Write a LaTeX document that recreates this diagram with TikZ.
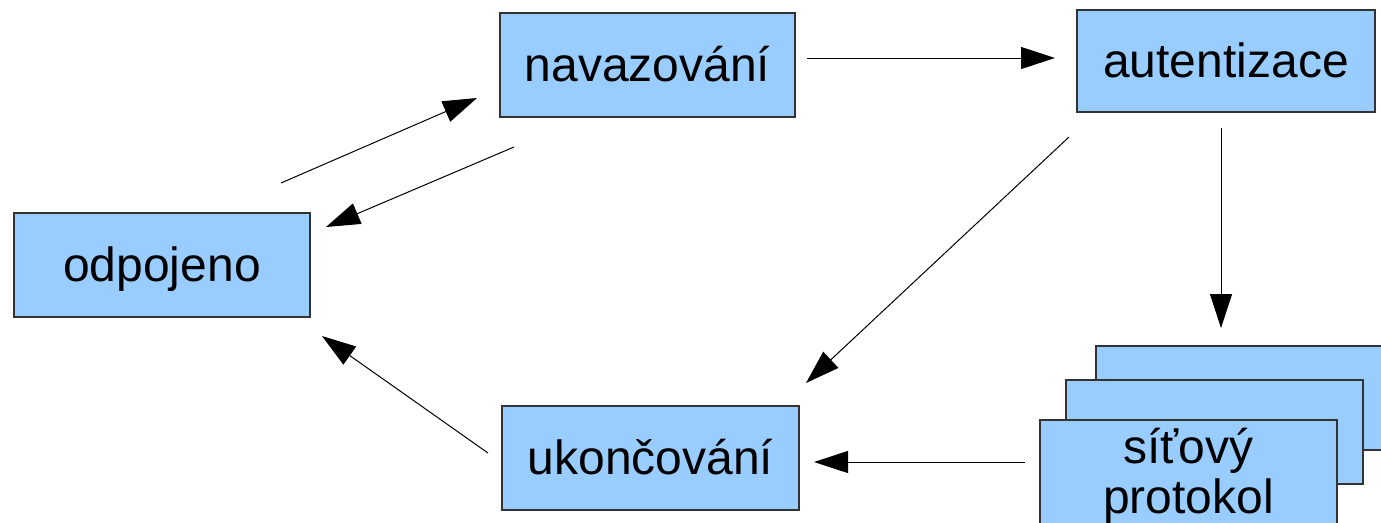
\documentclass[tikz,border=0pt]{standalone}
\usepackage{fontspec}
\setmainfont{Liberation Sans}
\usetikzlibrary{arrows.meta}
\definecolor{boxfill}{HTML}{99CCFF}
\definecolor{boxline}{HTML}{333333}
\begin{document}
\begin{tikzpicture}[x=1pt,y=-1pt,
  bigfont/.style={font=\fontsize{48}{50}\selectfont},
  statebox/.style={draw=boxline,fill=boxfill,line width=1.2pt,inner sep=0pt,
    bigfont,text height=36pt,text depth=4pt},
  plainbox/.style={draw=boxline,fill=boxfill,line width=1.2pt,inner sep=0pt},
  boxtext/.style={bigfont,inner sep=0pt,anchor=base},
  conn/.style={line width=1pt,-{Triangle[length=34pt,width=22pt]}}]
\useasboundingbox (0,0) rectangle (1381,522);
% state boxes
\node[statebox,minimum width=295pt,minimum height=104pt] (nav) at (647.5,65) {navazování};
\node[statebox,minimum width=298pt,minimum height=102pt] (aut) at (1226,61) {autentizace};
\node[statebox,minimum width=296pt,minimum height=104pt] (odp) at (162,265) {odpojeno};
\node[statebox,minimum width=297pt,minimum height=104pt] (uko) at (650.5,458) {ukončování};
% stacked protocol boxes
\node[plainbox,minimum width=300pt,minimum height=104pt] (sitc) at (1246,398) {};
\node[plainbox,minimum width=297pt,minimum height=104pt] (sitb) at (1214.5,432) {};
\node[plainbox,minimum width=297pt,minimum height=112pt] (sit) at (1188.5,476) {};
\node[boxtext] (sitl1) at (1188.5,463) {síťový};
\node[boxtext] (sitl2) at (1188.5,513) {protokol};
% connector end points
\coordinate (p1s) at (281,183);  \coordinate (p1e) at (477,98);
\coordinate (p2s) at (514,147);  \coordinate (p2e) at (326,227);
\coordinate (p3s) at (807,58);   \coordinate (p3e) at (1055,58);
\coordinate (p4s) at (1221,128); \coordinate (p4e) at (1221,328);
\coordinate (p5s) at (1069,137); \coordinate (p5e) at (806,383);
\coordinate (p6s) at (1025,462); \coordinate (p6e) at (814,462);
\coordinate (p7s) at (488,453);  \coordinate (p7e) at (322,336);
% connectors
\draw[conn] (p1s) -- (p1e);
\draw[conn] (p2s) -- (p2e);
\draw[conn] (p3s) -- (p3e);
\draw[conn] (p4s) -- (p4e);
\draw[conn] (p5s) -- (p5e);
\draw[conn] (p6s) -- (p6e);
\draw[conn] (p7s) -- (p7e);
\end{tikzpicture}
\end{document}
